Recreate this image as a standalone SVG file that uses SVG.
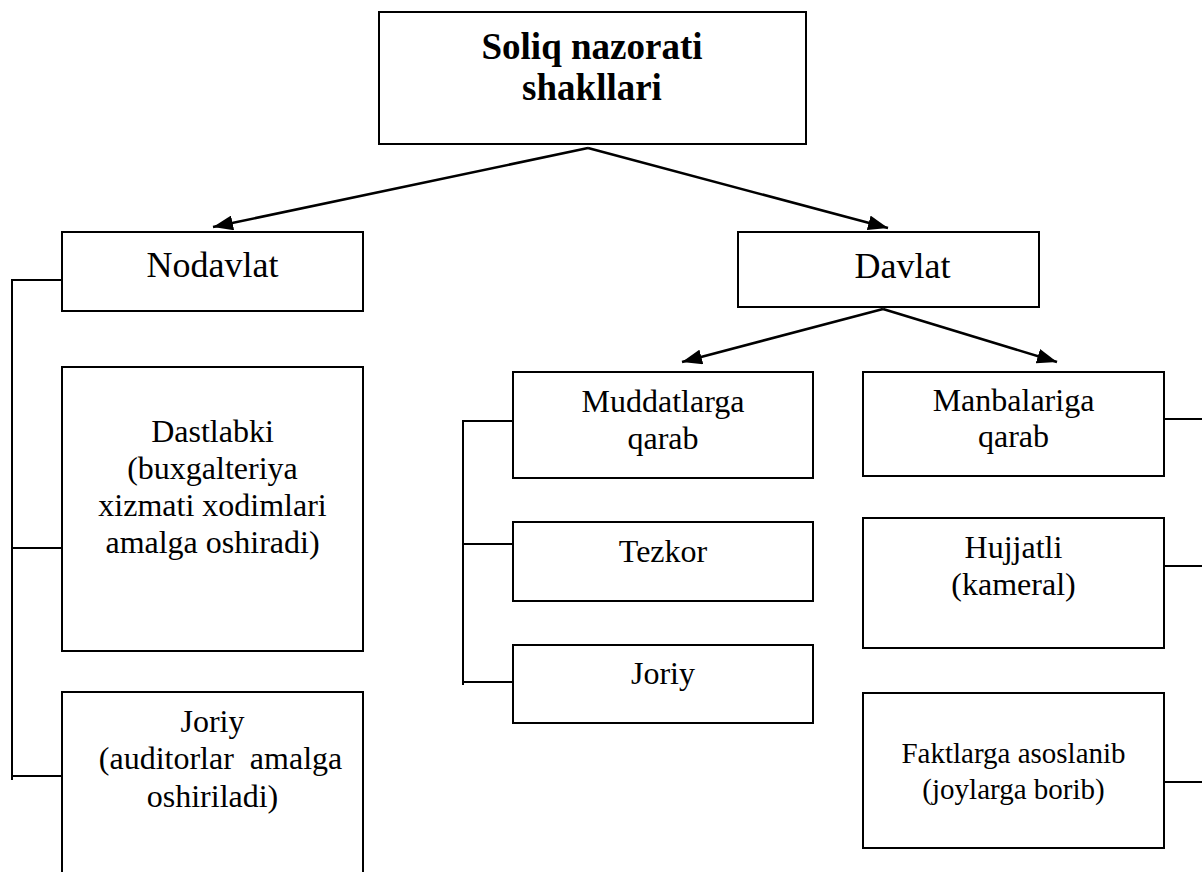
<svg xmlns="http://www.w3.org/2000/svg" width="1202" height="872" viewBox="0 0 1202 872" font-family="Liberation Serif, DejaVu Serif, serif">
<style>
.box{fill:#fff;stroke:#000;stroke-width:2}
.ln{fill:none;stroke:#000;stroke-width:2.5}
.br{fill:none;stroke:#000;stroke-width:2}
text{font-family:'Liberation Serif',serif;fill:#000;text-anchor:middle;font-size:32px}
.big{font-size:36px}
.title{font-size:37px;font-weight:bold}
.sm{font-size:29px}
</style>
<defs>
<marker id="arr" viewBox="0 0 20 15" refX="20" refY="7.5" markerWidth="20" markerHeight="15" markerUnits="userSpaceOnUse" orient="auto">
<path d="M0,0 L20,7.5 L0,15 Z" fill="#000"/>
</marker>
</defs>
<rect width="1202" height="872" fill="#fff"/>
<g id="connectors">
<path class="ln" d="M588,148 L213,227" marker-end="url(#arr)"/>
<path class="ln" d="M588,148 L888,228" marker-end="url(#arr)"/>
<path class="ln" d="M883,309 L682,362" marker-end="url(#arr)"/>
<path class="ln" d="M883,309 L1057,362" marker-end="url(#arr)"/>
<path class="br" d="M62,280 H12 V780 M12,548 H62 M12,776 H62"/>
<path class="br" d="M513,421 H463 V685 M463,544 H513 M463,682 H513"/>
<path class="br" d="M1164,419 H1202 M1164,566 H1202 M1164,782 H1202"/>
</g>
<g id="n-top">
<rect class="box" x="379" y="12" width="427" height="132"/>
<text class="title" x="592" y="59">Soliq nazorati</text>
<text class="title" x="592" y="100">shakllari</text>
</g>
<g id="n-nodavlat">
<rect class="box" x="62" y="232" width="301" height="79"/>
<text class="big" x="212.5" y="277">Nodavlat</text>
</g>
<g id="n-dastlabki">
<rect class="box" x="62" y="367" width="301" height="284"/>
<text x="212.5" y="442">Dastlabki</text>
<text x="212.5" y="479">(buxgalteriya</text>
<text x="212.5" y="516">xizmati xodimlari</text>
<text x="212.5" y="553">amalga oshiradi)</text>
</g>
<g id="n-joriy-left">
<rect class="box" x="62" y="692" width="301" height="200"/>
<text x="212.5" y="732">Joriy</text>
<text x="220.5" y="769" xml:space="preserve">(auditorlar  amalga</text>
<text x="212.5" y="807">oshiriladi)</text>
</g>
<g id="n-davlat">
<rect class="box" x="738" y="232" width="301" height="75"/>
<text class="big" x="902.5" y="278">Davlat</text>
</g>
<g id="n-muddat">
<rect class="box" x="513" y="372" width="300" height="106"/>
<text x="663" y="412">Muddatlarga</text>
<text x="663" y="449">qarab</text>
</g>
<g id="n-tezkor">
<rect class="box" x="513" y="522" width="300" height="79"/>
<text x="663" y="562">Tezkor</text>
</g>
<g id="n-joriy-mid">
<rect class="box" x="513" y="645" width="300" height="78"/>
<text x="663" y="684">Joriy</text>
</g>
<g id="n-manba">
<rect class="box" x="863" y="372" width="301" height="104"/>
<text x="1013.5" y="411">Manbalariga</text>
<text x="1013.5" y="447">qarab</text>
</g>
<g id="n-hujjatli">
<rect class="box" x="863" y="518" width="301" height="130"/>
<text x="1013.5" y="558">Hujjatli</text>
<text x="1013.5" y="595">(kameral)</text>
</g>
<g id="n-fakt">
<rect class="box" x="863" y="693" width="301" height="155"/>
<text class="sm" x="1013.5" y="763">Faktlarga asoslanib</text>
<text class="sm" x="1013.5" y="799">(joylarga borib)</text>
</g>
</svg>
